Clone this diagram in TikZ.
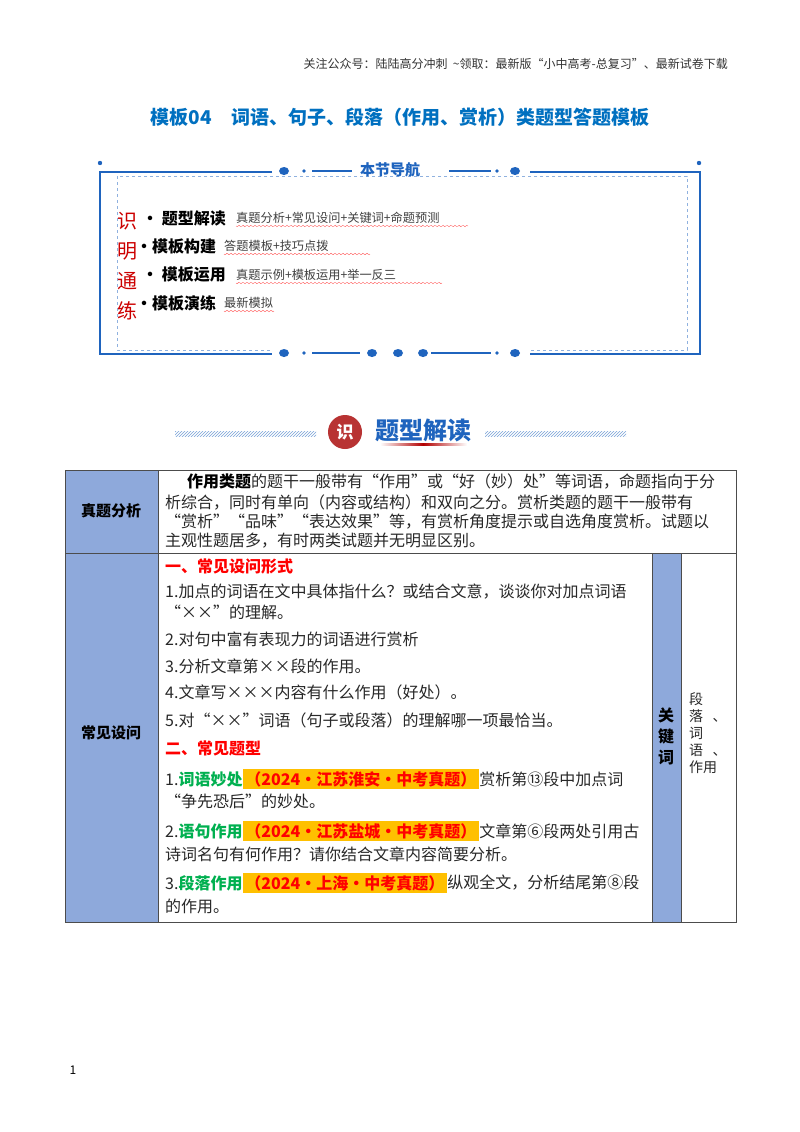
\documentclass[tikz,border=0pt]{standalone}
\usepackage{fontspec}
\setmainfont{Noto Sans CJK SC}
\newfontfamily\cjk{Noto Sans CJK SC}
\usetikzlibrary{patterns}
\definecolor{tblue}{RGB}{0,112,192}
\definecolor{navb}{RGB}{31,100,190}
\definecolor{cellb}{RGB}{142,169,219}
\definecolor{hl}{RGB}{255,192,0}
\definecolor{gtxt}{RGB}{0,176,80}
\definecolor{body}{RGB}{40,40,40}
\begin{document}
\begin{tikzpicture}[x=1pt,y=-1pt,
  ln/.style={anchor=west,inner sep=0pt,font=\fontsize{16}{18}\selectfont,text=body},
  nav/.style={anchor=west,inner sep=0pt,font=\fontsize{16}{18}\selectfont\bfseries},
  navs/.style={anchor=west,inner sep=0pt,font=\fontsize{12.2}{14}\selectfont,text=black!75},
  red/.style={anchor=center,inner sep=0pt,font=\fontsize{20}{22}\selectfont,text=red!80!black},
  dot/.style={fill=navb,draw=none},
  hlbox/.style={fill=hl,anchor=west,inner sep=2.5pt,font=\fontsize{16}{18}\selectfont\bfseries,text=red},
  cell/.style={draw=black!70,line width=0.8pt}]
\useasboundingbox (0,0) rectangle (800,1132);
\fill[white] (0,0) rectangle (800,1132);
% header
\node[anchor=east,inner sep=0pt,font=\fontsize{12}{14}\selectfont,text=black!80] (hdr) at (728,64) {关注公众号：陆陆高分冲刺\ \ \textasciitilde 领取：最新版“小中高考-总复习”、最新试卷下载};
\node[inner sep=0pt,font=\fontsize{19}{21}\selectfont\bfseries,text=tblue] (title) at (400,117) {模板04\quad 词语、句子、段落（作用、赏析）类题型答题模板};
% nav box
\draw[navb,line width=1.5pt] (272,172)--(100,172)--(100,354)--(700,354)--(700,172)--(530,172);
\draw[navb!50,dashed,line width=0.8pt] (117,176) rectangle (687,350);
\fill[white] (272,345) rectangle (530,362);
\node[inner sep=0pt,font=\fontsize{15}{17}\selectfont\bfseries,text=navb] (navt) at (390,170) {本节导航};
\draw[navb,line width=1.2pt] (312,171)--(352,171) (449,171)--(491,171);
\fill[dot] (284,171) ellipse (5 and 4); \fill[dot] (304,171) circle (1.8);
\fill[dot] (497,171) circle (1.8); \fill[dot] (515,171) ellipse (5 and 4);
\fill[dot] (100,163) circle (2.2); \fill[dot] (699,163) circle (2.2);
\draw[navb,line width=1.2pt] (312,353)--(360,353) (431,353)--(491,353);
\foreach \x in {284,372,398,423,515}{\fill[dot] (\x,353) ellipse (5 and 4);}
\fill[dot] (304,353) circle (1.8); \fill[dot] (497,353) circle (1.8);
\node[red] (r1) at (127,221) {识};
\node[red] (r2) at (127,251) {明};
\node[red] (r3) at (127,281) {通};
\node[red] (r4) at (127,311) {练};
\node[nav] (n1) at (142,218) {• 题型解读};
\node[nav] (n2) at (136,246) {·模板构建};
\node[nav] (n3) at (142,275) {• 模板运用};
\node[nav] (n4) at (136,303) {·模板演练};
\node[navs] (s1) at (236,218) {真题分析+常见设问+关键词+命题预测};
\node[navs] (s2) at (224,246) {答题模板+技巧点拨};
\node[navs] (s3) at (236,275) {真题示例+模板运用+举一反三};
\node[navs] (s4) at (224,303) {最新模拟};
\foreach \y/\a/\b in {226/236/468,254/224/370,283/236/442,311/224/274}{
  \draw[red!60,line width=0.4pt] plot[domain=\a:\b,samples=160] (\x,{\y+0.8*sin(mod(\x,4)*90)});}
% banner
\fill[pattern=north east lines,pattern color=navb!60] (175,431) rectangle (316,436);
\fill[pattern=north east lines,pattern color=navb!60] (485,431) rectangle (626,436);
\fill[red!65!black!80] (345,432) circle (17);
\node[inner sep=0pt,font=\fontsize{17}{18}\selectfont\bfseries,text=white] (bi) at (345,432) {识};
\node[inner sep=0pt,font=\fontsize{24}{26}\selectfont\bfseries,text=navb] (bt) at (423,430) {题型解读};
\shade[left color=white,right color=red!70!black] (380,443) rectangle (423,445);
\shade[left color=red!70!black,right color=white] (423,443) rectangle (467,445);
% table
\fill[cellb] (65,470) rectangle (158,922);
\fill[cellb] (652,553) rectangle (681,922);
\draw[cell] (65,470) rectangle (736,922);
\draw[cell] (158,470)--(158,922);
\draw[cell] (65,553)--(736,553);
\draw[cell] (652,553)--(652,922) (681,553)--(681,922);
\node[inner sep=0pt,font=\fontsize{15}{17}\selectfont\bfseries] (c1) at (111,511) {真题分析};
\node[inner sep=0pt,font=\fontsize{15}{17}\selectfont\bfseries] (c2) at (111,733) {常见设问};
\node[inner sep=0pt,align=center,font=\fontsize{16}{21}\selectfont\bfseries] (c3) at (666,736) {关\\键\\词};
\node[anchor=north west,inner sep=0pt,align=left,font=\fontsize{14}{17}\selectfont,text=body] (c4) at (689,692) {段\\落\ \ \ 、\\词\\语\ \ \ 、\\作用};
\node[ln] at (187,482) {\textbf{\color{black}作用类题}的题干一般带有“作用”或“好（妙）处”等词语，命题指向于分};
\node[ln] at (165,503) {析综合，同时有单向（内容或结构）和双向之分。赏析类题的题干一般带有};
\node[ln] at (165,522) {“赏析”“品味”“表达效果”等，有赏析角度提示或自选角度赏析。试题以};
\node[ln] at (165,541) {主观性题居多，有时两类试题并无明显区别。};
\node[ln,font=\fontsize{16}{18}\selectfont\bfseries,text=red] at (165,566) {一、常见设问形式};
\node[ln] at (165,592) {1.加点的词语在文中具体指什么？或结合文意，谈谈你对加点词语};
\node[ln] at (165,612) {“××”的理解。};
\node[ln] at (165,639) {2.对句中富有表现力的词语进行赏析};
\node[ln] at (165,666) {3.分析文章第××段的作用。};
\node[ln] at (165,692) {4.文章写×××内容有什么作用（好处）。};
\node[ln] at (165,720) {5.对“××”词语（句子或段落）的理解哪一项最恰当。};
\node[ln,font=\fontsize{16}{18}\selectfont\bfseries,text=red] at (165,748) {二、常见题型};
\node[ln] (q1) at (165,779) {1.\textbf{\color{gtxt}词语妙处}};
\node[hlbox] (h1) at (q1.east) {（2024·江苏淮安·中考真题）};
\node[ln] at (h1.east) {赏析第⑬段中加点词};
\node[ln] at (165,801) {“争先恐后”的妙处。};
\node[ln] (q2) at (165,831) {2.\textbf{\color{gtxt}语句作用}};
\node[hlbox] (h2) at (q2.east) {（2024·江苏盐城·中考真题）};
\node[ln] at (h2.east) {文章第⑥段两处引用古};
\node[ln] at (165,854) {诗词名句有何作用？请你结合文章内容简要分析。};
\node[ln] (q3) at (165,883) {3.\textbf{\color{gtxt}段落作用}};
\node[hlbox] (h3) at (q3.east) {（2024·上海·中考真题）};
\node[ln] at (h3.east) {纵观全文，分析结尾第⑧段};
\node[ln] at (165,906) {的作用。};
\node[inner sep=0pt,font=\fontsize{12}{14}\selectfont] (pg) at (73,1070) {1};
\end{tikzpicture}
\end{document}
